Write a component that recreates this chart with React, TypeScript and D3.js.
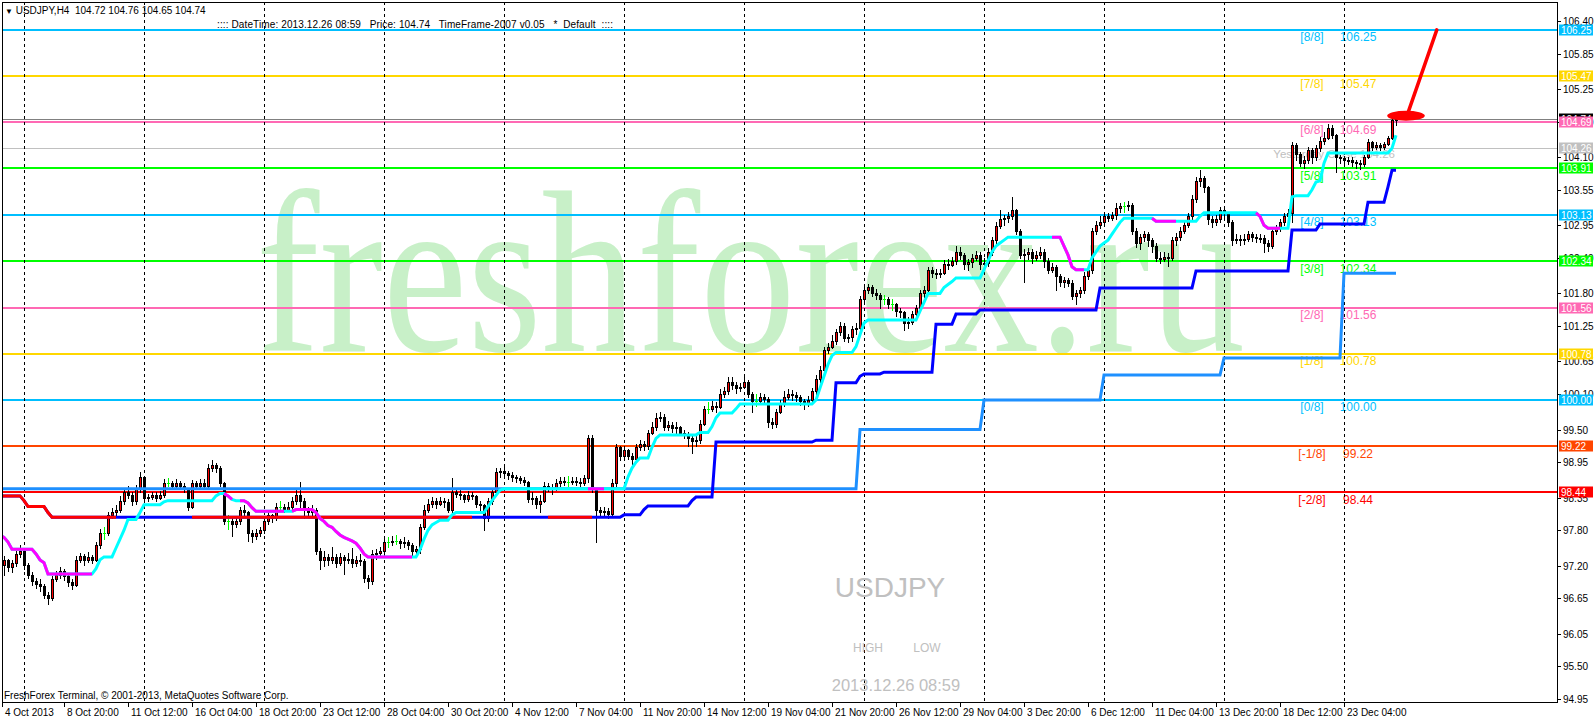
import React from 'react'
import * as d3 from 'd3'

// ---------- data ----------
const PRICE_TICKS = [106.4, 105.85, 105.25, 104.7, 104.1, 103.55, 102.95, 102.4, 101.8, 101.25, 100.65, 100.1, 99.5, 98.95, 98.35, 97.8, 97.2, 96.65, 96.05, 95.5, 94.95]

const DATE_LABELS = ['4 Oct 2013', '8 Oct 20:00', '11 Oct 12:00', '16 Oct 04:00', '18 Oct 20:00', '23 Oct 12:00', '28 Oct 04:00', '30 Oct 20:00', '4 Nov 12:00', '7 Nov 04:00', '11 Nov 20:00', '14 Nov 12:00', '19 Nov 04:00', '21 Nov 20:00', '26 Nov 12:00', '29 Nov 04:00', '3 Dec 20:00', '6 Dec 12:00', '11 Dec 04:00', '13 Dec 20:00', '18 Dec 12:00', '23 Dec 04:00']
const BARS_PER_LABEL = 16
const GRID_FIRST_BAR = 6
const BARS_PER_GRID = 30

const MURREY_LEVELS = [106.25, 105.47, 104.69, 103.91, 103.13, 102.34, 101.56, 100.78, 100.0, 99.22, 98.44]
const MURREY_NAMES = ['[8/8]', '[7/8]', '[6/8]', '[5/8]', '[4/8]', '[3/8]', '[2/8]', '[1/8]', '[0/8]', '[-1/8]', '[-2/8]']

const YESTERDAY_CLOSE = 104.26
const BID = 104.74
const HEADER_OHLC = ['104.72', '104.76', '104.65', '104.74']
const FIRST_OPEN = 97.2

// [close, high, low] for each H4 bar, open = previous close
const octBars = [
  [97.22, 97.34, 97.12], [97.3, 97.36, 97.05], [97.18, 97.32, 97.12], [97.24, 97.3, 97.1], [97.4, 97.45, 97.2], [97.45, 97.55, 97.35],
  [97.22, 97.46, 97.15], [97.05, 97.25, 97.0], [96.95, 97.1, 96.88], [96.9, 97.0, 96.82], [96.86, 96.98, 96.78], [96.7, 96.9, 96.66],
  [96.66, 96.75, 96.55], [96.98, 97.02, 96.62], [97.05, 97.12, 96.95], [97.12, 97.18, 97.0], [97.02, 97.14, 96.96], [96.92, 97.08, 96.85],
  [96.88, 96.98, 96.8], [97.3, 97.36, 96.86], [97.36, 97.42, 97.26], [97.3, 97.4, 97.22], [97.35, 97.44, 97.26], [97.3, 97.38, 97.24],
  [97.55, 97.6, 97.28], [97.75, 97.82, 97.5], [97.75, 97.86, 97.66], [98.05, 98.1, 97.72], [98.1, 98.18, 98.0], [98.15, 98.22, 98.05],
  [98.3, 98.38, 98.1], [98.45, 98.52, 98.25], [98.4, 98.55, 98.35], [98.3, 98.45, 98.22], [98.5, 98.56, 98.25], [98.7, 98.78, 98.45],
  [98.35, 98.72, 98.3], [98.36, 98.42, 98.3], [98.4, 98.45, 98.32], [98.35, 98.44, 98.3], [98.4, 98.46, 98.32], [98.6, 98.66, 98.36],
  [98.6, 98.68, 98.54], [98.55, 98.64, 98.5], [98.6, 98.66, 98.52], [98.55, 98.63, 98.5], [98.5, 98.6, 98.45], [98.2, 98.52, 98.15],
  [98.6, 98.65, 98.18], [98.55, 98.64, 98.5], [98.6, 98.66, 98.52], [98.55, 98.66, 98.5], [98.85, 98.92, 98.52], [98.9, 98.99, 98.8],
  [98.85, 98.94, 98.78], [98.6, 98.88, 98.55], [97.95, 98.62, 97.9], [97.95, 98.05, 97.82], [97.9, 98.0, 97.7], [97.95, 98.02, 97.85],
  [98.15, 98.2, 97.9], [98.1, 98.22, 98.02], [97.75, 98.12, 97.62], [97.7, 97.8, 97.6], [97.75, 97.82, 97.65], [97.8, 97.86, 97.7],
  [97.95, 98.0, 97.76], [98.05, 98.1, 97.9], [98.0, 98.08, 97.94], [98.2, 98.26, 97.98], [98.2, 98.3, 98.12], [98.15, 98.24, 98.1],
  [98.2, 98.28, 98.12], [98.3, 98.36, 98.15], [98.4, 98.5, 98.25], [98.3, 98.62, 98.2], [98.15, 98.35, 98.0], [98.1, 98.2, 98.02],
  [98.15, 98.22, 98.05], [97.45, 98.18, 97.4], [97.3, 97.5, 97.15], [97.35, 97.45, 97.2], [97.3, 97.4, 97.22], [97.35, 97.52, 97.25],
  [97.25, 97.4, 97.18], [97.35, 97.42, 97.22], [97.3, 97.38, 97.06], [97.32, 97.42, 97.24], [97.25, 97.5, 97.18], [97.3, 97.36, 97.2],
  [97.28, 97.4, 97.22], [97.0, 97.32, 96.92], [96.95, 97.05, 96.82], [97.4, 97.46, 96.9], [97.42, 97.48, 97.32], [97.45, 97.52, 97.36],
  [97.6, 97.66, 97.42], [97.6, 97.68, 97.52], [97.62, 97.7, 97.55], [97.62, 97.72, 97.56], [97.58, 97.66, 97.5], [97.6, 97.68, 97.52],
  [97.55, 97.64, 97.48], [97.45, 97.58, 97.38], [97.48, 97.54, 97.36], [97.85, 97.9, 97.42], [98.15, 98.22, 97.82], [98.25, 98.32, 98.1],
  [98.3, 98.36, 98.2], [98.25, 98.34, 98.18], [98.3, 98.36, 98.22], [98.28, 98.35, 98.2], [98.15, 98.32, 98.1], [98.45, 98.68, 98.1],
  [98.42, 98.5, 98.36], [98.4, 98.48, 98.33], [98.33, 98.42, 98.28], [98.4, 98.46, 98.3], [98.38, 98.45, 98.32],
]

const novBars = [
  [98.25, 98.4, 98.2], [98.22, 98.3, 98.15], [98.0, 98.25, 97.8], [98.3, 98.35, 97.95], [98.45, 98.5, 98.25], [98.78, 98.85, 98.42],
  [98.8, 98.85, 98.7], [98.76, 98.88, 98.7], [98.73, 98.8, 98.66], [98.7, 98.78, 98.64], [98.68, 98.74, 98.62], [98.65, 98.72, 98.6],
  [98.62, 98.7, 98.56], [98.32, 98.64, 98.28], [98.35, 98.45, 98.25], [98.25, 98.38, 98.18], [98.3, 98.4, 98.1], [98.55, 98.62, 98.28],
  [98.52, 98.6, 98.46], [98.5, 98.58, 98.42], [98.6, 98.66, 98.48], [98.63, 98.7, 98.55], [98.62, 98.7, 98.56], [98.62, 98.72, 98.54],
  [98.64, 98.7, 98.58], [98.62, 98.7, 98.56], [98.6, 98.68, 98.54], [98.68, 98.74, 98.56], [99.35, 99.4, 98.62], [98.5, 99.4, 98.45],
  [98.15, 98.48, 97.6], [98.1, 98.2, 98.02], [98.12, 98.2, 98.05], [98.08, 98.18, 98.0], [98.6, 98.66, 98.05], [99.2, 99.25, 98.55],
  [99.05, 99.22, 98.98], [99.15, 99.22, 99.0], [99.05, 99.18, 99.0], [99.0, 99.1, 98.92], [99.2, 99.26, 98.98], [99.25, 99.32, 99.15],
  [99.22, 99.3, 99.15], [99.45, 99.5, 99.18], [99.55, 99.62, 99.42], [99.7, 99.78, 99.5], [99.72, 99.8, 99.64], [99.55, 99.76, 99.5],
  [99.58, 99.65, 99.5], [99.52, 99.62, 99.46], [99.55, 99.62, 99.45], [99.45, 99.56, 99.4], [99.42, 99.5, 99.35], [99.35, 99.46, 99.22],
  [99.3, 99.4, 99.1], [99.32, 99.42, 99.22], [99.6, 99.66, 99.28], [99.85, 99.9, 99.58], [99.85, 99.96, 99.78], [99.9, 99.98, 99.82],
  [99.88, 99.96, 99.8], [100.1, 100.18, 99.86], [100.15, 100.22, 100.05], [100.3, 100.38, 100.1], [100.25, 100.38, 100.18], [100.2, 100.3, 100.12],
  [100.22, 100.28, 100.15], [100.3, 100.42, 100.2], [100.1, 100.34, 100.05], [99.98, 100.14, 99.8], [99.98, 100.1, 99.9], [100.05, 100.12, 99.96],
  [100.02, 100.1, 99.96], [99.62, 100.05, 99.55], [99.6, 99.7, 99.52], [99.8, 99.85, 99.55], [99.95, 100.0, 99.78], [100.05, 100.15, 99.9],
  [100.1, 100.18, 100.02], [100.08, 100.16, 100.0], [100.05, 100.14, 99.98], [99.98, 100.08, 99.92], [99.95, 100.02, 99.85], [100.0, 100.06, 99.9],
  [100.15, 100.2, 99.96], [100.35, 100.42, 100.1], [100.5, 100.58, 100.3], [100.85, 100.9, 100.45], [100.9, 100.96, 100.8], [101.0, 101.1, 100.88],
  [101.15, 101.2, 100.95], [101.25, 101.32, 101.1], [101.05, 101.3, 101.0], [101.07, 101.12, 100.98], [101.2, 101.25, 101.0], [101.22, 101.3, 101.12],
  [101.7, 101.76, 101.18], [101.85, 101.92, 101.65], [101.9, 101.96, 101.8], [101.8, 101.95, 101.75], [101.78, 101.88, 101.7], [101.7, 101.8, 101.55],
  [101.7, 101.78, 101.62], [101.62, 101.74, 101.56], [101.62, 101.7, 101.52], [101.5, 101.64, 101.42], [101.48, 101.56, 101.4], [101.3, 101.5, 101.18],
  [101.32, 101.4, 101.22], [101.45, 101.5, 101.28], [101.55, 101.6, 101.4], [101.8, 101.86, 101.52], [101.85, 101.92, 101.74], [102.2, 102.25, 101.82],
  [102.15, 102.24, 102.08], [102.12, 102.22, 102.06], [102.15, 102.22, 102.08], [102.3, 102.36, 102.12], [102.28, 102.38, 102.22], [102.35, 102.42, 102.26],
  [102.5, 102.6, 102.3], [102.45, 102.58, 102.38], [102.3, 102.48, 102.22], [102.33, 102.38, 102.2], [102.4, 102.46, 102.25], [102.45, 102.52, 102.36],
]

const decBars = [
  [102.3, 102.5, 102.22], [102.32, 102.4, 102.2], [102.5, 102.56, 102.26], [102.7, 102.76, 102.45], [102.93, 103.0, 102.65], [103.05, 103.2, 102.9],
  [103.07, 103.12, 102.96], [103.1, 103.18, 103.0], [103.2, 103.42, 103.05], [102.85, 103.22, 102.8], [102.45, 102.88, 102.4], [102.47, 102.55, 102.0],
  [102.5, 102.56, 102.38], [102.4, 102.55, 102.32], [102.45, 102.52, 102.36], [102.5, 102.58, 102.4], [102.35, 102.55, 102.25], [102.2, 102.4, 102.15],
  [102.25, 102.32, 102.16], [102.1, 102.28, 101.85], [102.0, 102.12, 101.92], [102.02, 102.08, 101.9], [101.98, 102.06, 101.92], [101.75, 102.02, 101.7],
  [101.8, 101.86, 101.62], [101.85, 101.9, 101.74], [102.1, 102.16, 101.8], [102.2, 102.28, 102.05], [102.85, 102.9, 102.15], [102.95, 103.02, 102.8],
  [103.0, 103.1, 102.9], [103.1, 103.18, 102.96], [103.08, 103.16, 103.02], [103.12, 103.18, 103.04], [103.25, 103.32, 103.05], [103.27, 103.32, 103.18],
  [103.27, 103.34, 103.18], [103.3, 103.36, 103.2], [102.85, 103.32, 102.8], [102.65, 102.9, 102.58], [102.75, 102.8, 102.55], [102.8, 102.86, 102.68],
  [102.7, 102.84, 102.6], [102.6, 102.74, 102.5], [102.4, 102.65, 102.35], [102.38, 102.5, 102.32], [102.42, 102.5, 102.34], [102.4, 102.48, 102.26],
  [102.7, 102.76, 102.36], [102.75, 102.82, 102.62], [102.85, 102.92, 102.7], [102.95, 103.0, 102.82], [103.1, 103.16, 102.92], [103.4, 103.46, 103.05],
  [103.7, 103.76, 103.35], [103.75, 103.88, 103.62], [103.6, 103.78, 103.52], [103.05, 103.62, 102.98], [103.0, 103.1, 102.92], [103.05, 103.12, 102.95],
  [103.2, 103.26, 103.0], [103.15, 103.24, 103.08], [103.0, 103.18, 102.94], [102.7, 103.04, 102.62], [102.72, 102.8, 102.65], [102.7, 102.78, 102.62],
  [102.72, 102.8, 102.64], [102.8, 102.86, 102.68], [102.75, 102.84, 102.68], [102.73, 102.8, 102.66], [102.74, 102.8, 102.66], [102.65, 102.78, 102.5],
  [102.6, 102.7, 102.52], [102.85, 102.9, 102.56], [102.9, 102.96, 102.8], [103.0, 103.06, 102.86], [103.1, 103.16, 102.96], [103.15, 103.22, 103.05],
  [104.3, 104.35, 103.0], [104.15, 104.34, 104.05], [104.0, 104.18, 103.95], [104.05, 104.12, 103.92], [104.22, 104.28, 104.0], [104.1, 104.25, 104.0],
  [104.25, 104.3, 104.05], [104.38, 104.44, 104.2], [104.42, 104.52, 104.32], [104.6, 104.66, 104.4], [104.48, 104.64, 104.42], [104.1, 104.5, 103.85],
  [104.08, 104.14, 104.0], [104.05, 104.12, 103.98], [104.06, 104.1, 103.98], [104.02, 104.1, 103.95], [104.0, 104.06, 103.92], [103.98, 104.05, 103.9],
  [104.1, 104.14, 103.95], [104.35, 104.4, 104.08], [104.28, 104.38, 104.22], [104.3, 104.36, 104.24], [104.28, 104.34, 104.22], [104.32, 104.36, 104.24],
  [104.42, 104.46, 104.3], [104.72, 104.81, 104.4], [104.74, 104.76, 104.65],
]

// trailing lines as [value, number of bars]
const fastTrail = [
  [97.72, 1], [97.68, 1], [97.6, 1], [97.48, 6], [97.4, 1], [97.3, 1], [97.25, 1], [97.06, 12], [97.15, 1], [97.3, 1], [97.35, 3],
  [97.5, 1], [97.65, 1], [97.8, 1], [97.98, 3], [98.1, 1], [98.23, 5], [98.28, 1], [98.3, 12], [98.38, 1], [98.42, 2], [98.38, 1],
  [98.32, 1], [98.3, 3], [98.26, 1], [98.18, 1], [98.12, 10], [98.15, 5], [98.1, 1], [98.0, 1], [97.95, 1], [97.88, 1], [97.85, 1],
  [97.78, 1], [97.72, 1], [97.68, 1], [97.65, 1], [97.62, 1], [97.58, 1], [97.5, 1], [97.4, 1], [97.35, 13], [97.47, 1], [97.65, 1],
  [97.8, 1], [97.89, 1], [97.93, 1], [97.97, 3], [98.06, 1], [98.1, 8], [98.2, 1], [98.3, 1], [98.39, 1], [98.48, 1], [98.5, 31],
  [98.7, 1], [98.85, 1], [98.95, 1], [99.02, 3], [99.2, 1], [99.35, 1], [99.41, 10], [99.45, 3], [99.55, 1], [99.7, 1], [99.78, 4],
  [99.85, 1], [99.93, 19], [100.0, 1], [100.2, 1], [100.4, 1], [100.6, 1], [100.75, 1], [100.8, 5], [100.9, 1], [101.1, 1], [101.3, 1],
  [101.35, 13], [101.5, 1], [101.65, 1], [101.8, 4], [101.9, 1], [101.95, 1], [102.0, 1], [102.06, 7], [102.2, 1], [102.35, 1],
  [102.5, 1], [102.6, 1], [102.65, 1], [102.7, 1], [102.75, 14], [102.6, 1], [102.45, 1], [102.25, 1], [102.2, 4], [102.4, 1],
  [102.5, 1], [102.6, 1], [102.65, 1], [102.7, 1], [102.8, 1], [102.9, 1], [103.0, 1], [103.07, 8], [103.02, 11], [103.1, 1],
  [103.16, 14], [103.1, 1], [102.95, 1], [102.9, 6], [103.43, 1], [103.45, 4], [103.55, 1], [103.68, 1], [103.7, 1], [104.0, 1],
  [104.17, 16], [104.25, 1], [104.47, 1],
]
const fastDownRuns = [[0, 23], [57, 58], [61, 71], [74, 103], [148, 151], [264, 271], [289, 294], [315, 320]]

const slowTrail = [
  [98.38, 6], [98.3, 1], [98.2, 5], [98.1, 1], [98.02, 143], [98.06, 5], [98.15, 1], [98.21, 11], [98.3, 1], [98.36, 5],
  [99.29, 25], [99.32, 5], [100.29, 6], [100.4, 1], [100.44, 5], [100.47, 13], [101.28, 5], [101.45, 6], [101.52, 30],
  [101.89, 24], [102.18, 24], [102.87, 7], [102.97, 12], [103.34, 5], [103.6, 1], [103.88, 2],
]
const slowDownRuns = [[0, 29], [49, 118], [138, 148]]

const weeklyStep = [[98.5, 215], [99.5, 31], [100.0, 30], [100.42, 30], [100.71, 30], [102.14, 14]]

// hand-drawn note: [bar, price]
const noteArrow = [[359.2, 106.25], [352.1, 104.87]]
const noteBlob = { bar: 351.5, price: 104.8, bars: 4.7, depth: 0.085 }

// ---------- styles ----------
const LEVEL_COLORS = ['#00BFFF', '#FFD700', '#FF69B4', '#00FF00', '#00BFFF', '#00FF00', '#FF69B4', '#FFD700', '#00BFFF', '#FF4500', '#FF0000']
const SANS = '"Liberation Sans", Arial, sans-serif'

const expand = (runs: number[][]) => runs.flatMap(([v, n]) => Array(n).fill(v))

export default function App() {
  const W = 1596
  const H = 720
  const left = 2
  const right = 1557
  const top = 2
  const bottom = 702

  const raw = [...octBars, ...novBars, ...decBars]
  const N = raw.length
  const bars = raw.map((d, i) => {
    const o = i === 0 ? FIRST_OPEN : raw[i - 1][0]
    const c = d[0]
    return { b: i, o, c, h: Math.max(d[1], o, c), l: Math.min(d[2], o, c) }
  })

  const fit = (arr: number[]) => {
    const a = arr.slice(0, N)
    while (a.length < N) a.push(a[a.length - 1])
    return a
  }
  const fast = fit(expand(fastTrail))
  const slow = fit(expand(slowTrail))
  const weekly = fit(expand(weeklyStep))

  const x = d3.scaleLinear().domain([0, 349]).range([0, 1396])
  const y = d3.scaleLinear().domain([94.95, 106.4]).range([699, 21])

  const seg = (arr: number[], s: number, e: number) =>
    d3.line<number>().x((_, i) => x(s + i)).y(v => y(v))(arr.slice(s, e + 1)) || ''

  const gridBars = d3.range(GRID_FIRST_BAR, 360, BARS_PER_GRID)

  const labelBox = (price: number, color: string, key: string) => (
    <g key={key}>
      <rect x={1559} y={Math.round(y(price)) - 5.5} width={34} height={11} fill={color} />
      <text x={1561} y={Math.round(y(price)) + 4} fontFamily={SANS} fontSize={10} fill="#fff">
        {price.toFixed(2)}
      </text>
    </g>
  )

  const [a0, a1] = noteArrow
  // watermark drawn in a serif face, squeezed to the width seen on the chart
  const markSize = 232
  const markScale = 0.821

  return (
    <div style={{ position: 'absolute', left: 0, top: 0, width: W, height: H, background: '#fff' }}>
      <svg width={W} height={H} style={{ display: 'block' }}>
        <defs>
          <clipPath id="plot">
            <rect x={left} y={top} width={right - left} height={bottom - top} />
          </clipPath>
        </defs>
        <rect width={W} height={H} fill="#fff" />

        <g clipPath="url(#plot)">
          {/* watermark */}
          <text transform={`translate(256,351) scale(${markScale},1)`} fontFamily='"Liberation Serif", "Times New Roman", serif'
            fontSize={markSize} fill="#C8F0C8">freshforex.ru</text>

          {/* murrey labels */}
          {MURREY_LEVELS.map((lv, i) => (
            <g key={'ml' + i} fontFamily={SANS} fontSize={12} fill={LEVEL_COLORS[i]} textAnchor="middle">
              <text x={x(328)} y={y(lv) + 11.5}>{MURREY_NAMES[i]}</text>
              <text x={x(339.5)} y={y(lv) + 11.5}>{lv.toFixed(2)}</text>
            </g>
          ))}
          <text x={x(349) - 1} y={y(YESTERDAY_CLOSE) + 10.5} textAnchor="end" fontFamily={SANS} fontSize={11.5} fill="#C0C0C0">
            Yesterday Close {YESTERDAY_CLOSE.toFixed(2)}
          </text>

          {/* murrey lines */}
          {MURREY_LEVELS.map((lv, i) => (
            <line key={'mv' + i} x1={left} x2={right} y1={Math.round(y(lv))} y2={Math.round(y(lv))}
              stroke={LEVEL_COLORS[i]} strokeWidth={2} />
          ))}
          <line x1={left} x2={right} y1={Math.round(y(YESTERDAY_CLOSE)) + 0.5} y2={Math.round(y(YESTERDAY_CLOSE)) + 0.5} stroke="#C0C0C0" />
          <line x1={left} x2={right} y1={Math.round(y(BID)) + 0.5} y2={Math.round(y(BID)) + 0.5} stroke="#808080" />

          {/* grid */}
          {gridBars.map(b => (
            <line key={'g' + b} x1={x(b) + 0.5} x2={x(b) + 0.5} y1={top} y2={bottom} stroke="#000" strokeDasharray="3,3" />
          ))}

          {/* candles */}
          <g shapeRendering="crispEdges">
            {bars.map(d => {
              const cx = Math.round(x(d.b))
              const doji = Math.abs(d.o - d.c) < 0.005
              const yT = Math.round(y(Math.max(d.o, d.c)))
              const yB = Math.round(y(Math.min(d.o, d.c)))
              const hh = Math.max(1, yB - yT)
              const wick = doji ? '#00FF00' : '#000'
              return (
                <g key={'c' + d.b}>
                  <rect x={cx} y={Math.round(y(d.h))} width={1} height={Math.max(1, Math.round(y(d.l)) - Math.round(y(d.h)) + 1)} fill={wick} />
                  {doji ? (
                    <rect x={cx - 1} y={yT} width={3} height={1} fill="#00FF00" />
                  ) : (
                    <>
                      <rect x={cx - 1} y={yT} width={3} height={hh + 1} fill="#000" />
                      {d.c > d.o && hh > 1 && <rect x={cx} y={yT + 1} width={1} height={hh - 1} fill="#FF0000" />}
                    </>
                  )}
                </g>
              )
            })}
          </g>

          {/* trailing lines */}
          <path d={seg(weekly, 0, N - 1)} fill="none" stroke="#1E90FF" strokeWidth={3} />
          <path d={seg(slow, 0, N - 1)} fill="none" stroke="#0000FF" strokeWidth={3} />
          {slowDownRuns.map(([s, e]) => (
            <path key={'sr' + s} d={seg(slow, Math.max(0, s - 1), e)} fill="none" stroke="#FF0000" strokeWidth={3} />
          ))}
          <path d={seg(fast, 0, N - 1)} fill="none" stroke="#00FFFF" strokeWidth={3} />
          {fastDownRuns.map(([s, e]) => (
            <path key={'fr' + s} d={seg(fast, Math.max(0, s - 1), e)} fill="none" stroke="#FF00FF" strokeWidth={3} />
          ))}

          {/* note */}
          <ellipse cx={x(noteBlob.bar)} cy={y(noteBlob.price)} rx={x(noteBlob.bars) - x(0)}
            ry={y(noteBlob.price - noteBlob.depth) - y(noteBlob.price)} fill="#FF0000" />
          <line x1={x(a0[0])} y1={y(a0[1])} x2={x(a1[0])} y2={y(a1[1])} stroke="#FF0000" strokeWidth={3.5} strokeLinecap="round" />

          {/* centre info */}
          <g fontFamily={SANS} fill="#C0C0C0" textAnchor="middle">
            <text x={890} y={597} fontSize={28}>USDJPY</text>
            <text x={868} y={652} fontSize={12}>HIGH</text>
            <text x={927} y={652} fontSize={12}>LOW</text>
            <text x={896} y={691} fontSize={16.5}>2013.12.26 08:59</text>
          </g>

          {/* header */}
          <g fontFamily={SANS} fontSize={10} fill="#000">
            <text x={5} y={14} xmlSpace="preserve" style={{ whiteSpace: 'pre' }}>
              <tspan fontSize={8}>▼</tspan>{' USDJPY,H4  ' + HEADER_OHLC.join(' ')}
            </text>
            <text x={217} y={27.5} xmlSpace="preserve" style={{ whiteSpace: 'pre' }} textLength={396} lengthAdjust="spacing">
              {':::: DateTime: 2013.12.26 08:59   Price: ' + BID.toFixed(2) + '   TimeFrame-2007 v0.05   *  Default  ::::'}
            </text>
            <text x={4} y={698.5}>FreshForex Terminal, © 2001-2013, MetaQuotes Software Corp.</text>
          </g>
        </g>

        {/* frame */}
        <rect x={left + 0.5} y={top + 0.5} width={right - left} height={bottom - top} fill="none" stroke="#000" />

        {/* price axis */}
        {PRICE_TICKS.map(t => (
          <g key={'t' + t}>
            <line x1={right} x2={right + 4} y1={Math.round(y(t)) + 0.5} y2={Math.round(y(t)) + 0.5} stroke="#000" />
            <text x={1563} y={Math.round(y(t)) + 4} fontFamily={SANS} fontSize={10} fill="#000">{t.toFixed(2)}</text>
          </g>
        ))}
        {labelBox(BID, '#000000', 'bid')}
        {MURREY_LEVELS.map((lv, i) => labelBox(lv, LEVEL_COLORS[i], 'lb' + i))}
        {labelBox(YESTERDAY_CLOSE, '#C0C0C0', 'yc')}

        {/* time axis */}
        {DATE_LABELS.map((lab, k) => {
          const tx = Math.max(left + 0.5, Math.round(x(k * BARS_PER_LABEL)) + 0.5)
          return (
            <g key={'d' + k}>
              <line x1={tx} x2={tx} y1={bottom} y2={bottom + 5} stroke="#000" />
              <text x={tx + 2.5} y={716} fontFamily={SANS} fontSize={10} fill="#000">{lab}</text>
            </g>
          )
        })}
      </svg>
    </div>
  )
}
